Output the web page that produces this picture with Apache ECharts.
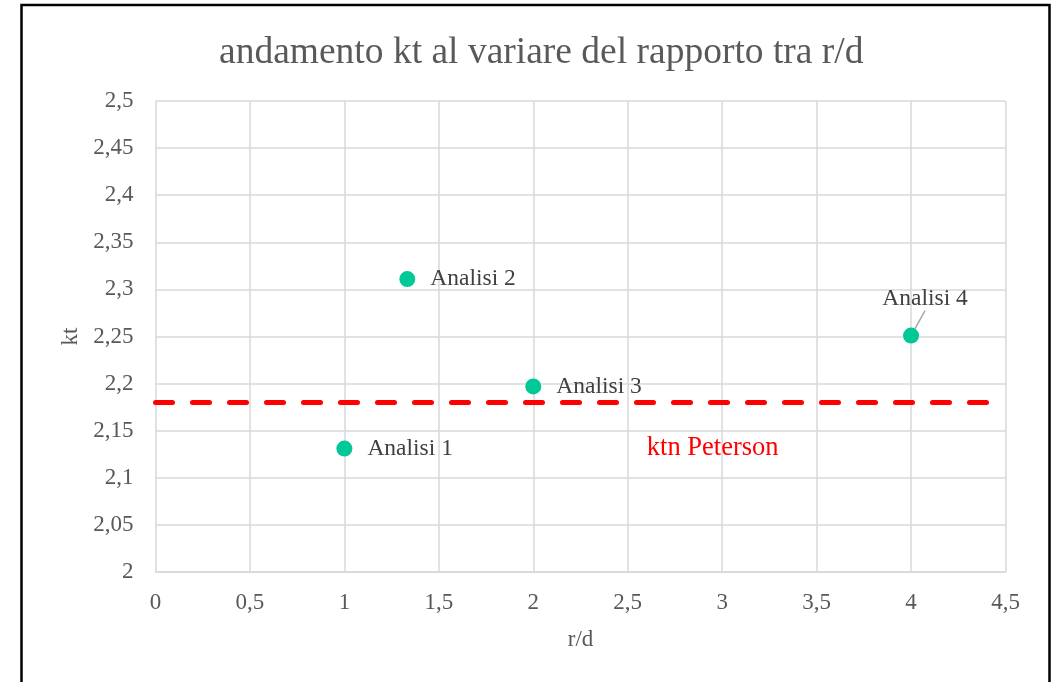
<!DOCTYPE html>
<html>
<head>
<meta charset="utf-8">
<script src="https://cdn.jsdelivr.net/npm/echarts@6/dist/echarts.min.js"></script>
<style>
  html, body { margin: 0; padding: 0; background: #ffffff; }
  #chart { width: 1056px; height: 682px; }
</style>
</head>
<body>
<div id="chart"></div>
<script>
// Analysis points: r/d ratio against measured kt
const analysisNames = ['Analisi 1', 'Analisi 2', 'Analisi 3', 'Analisi 4'];
const rdValues = [1, 1.333, 2, 4];
const ktValues = [2.131, 2.311, 2.197, 2.251];

// Peterson reference value (horizontal line) and where its caption sits
const petersonName = 'ktn Peterson';
const petersonKt = 2.18;
const petersonX = [0, 2.95, 4.5];
const petersonLabelIndex = 1;

const xTicks = { min: 0, max: 4.5, step: 0.5 };
const yTicks = { min: 2, max: 2.5, step: 0.05 };

const serif = '"Liberation Serif", "Times New Roman", serif';
const fmt = v => String(+v.toFixed(2)).replace('.', ',');

const scatterData = analysisNames.map((name, i) => {
  const item = { name: name, value: [rdValues[i], ktValues[i]] };
  if (i === 3) {
    item.label = { position: 'top', distance: 6 };
    item.labelLine = { show: true, lineStyle: { color: '#a6a6a6', width: 1.5 } };
  }
  return item;
});

const lineData = petersonX.map((x, i) => {
  const item = { value: [x, petersonKt] };
  if (i === petersonLabelIndex) {
    item.label = {
      show: true, position: 'bottom', distance: 32,
      formatter: petersonName, color: '#ff0000',
      fontFamily: serif, fontSize: 26.5
    };
  }
  return item;
});

const chart = echarts.init(document.getElementById('chart'), null, { renderer: 'canvas' });
chart.setOption({
  backgroundColor: '#ffffff',
  animation: false,
  graphic: [{
    type: 'rect',
    shape: { x: 21.5, y: 5, width: 1028, height: 700 },
    style: { fill: 'none', stroke: '#000000', lineWidth: 2.5 },
    silent: true
  }],
  title: {
    text: 'andamento kt al variare del rapporto tra r/d',
    left: 214,
    top: 29,
    textStyle: { fontFamily: serif, fontSize: 37.5, fontWeight: 'normal', color: '#595959' }
  },
  grid: { left: 155.5, top: 101, right: 50.5, bottom: 110, containLabel: false },
  xAxis: {
    type: 'value',
    min: xTicks.min, max: xTicks.max, interval: xTicks.step,
    name: 'r/d',
    nameLocation: 'middle',
    nameGap: 56,
    nameTextStyle: { fontFamily: serif, fontSize: 23, color: '#595959' },
    axisLine: { show: true, lineStyle: { color: '#d9d9d9', width: 1.5 } },
    axisTick: { show: false },
    axisLabel: { formatter: fmt, fontFamily: serif, fontSize: 23, color: '#595959', margin: 19 },
    splitLine: { show: true, lineStyle: { color: '#d9d9d9', width: 1.5 } }
  },
  yAxis: {
    type: 'value',
    min: yTicks.min, max: yTicks.max, interval: yTicks.step,
    name: 'kt',
    nameLocation: 'middle',
    nameGap: 73,
    nameRotate: 90,
    nameTextStyle: { fontFamily: serif, fontSize: 23, color: '#595959' },
    axisLine: { show: false },
    axisTick: { show: false },
    axisLabel: { formatter: fmt, fontFamily: serif, fontSize: 23, color: '#595959', margin: 22 },
    splitLine: { show: true, lineStyle: { color: '#d9d9d9', width: 1.5 } }
  },
  series: [
    {
      name: petersonName,
      type: 'line',
      data: lineData,
      symbol: 'circle',
      symbolSize: 0.1,
      showSymbol: true,
      itemStyle: { color: 'rgba(0,0,0,0)' },
      lineStyle: { color: '#ff0000', width: 5, type: [17, 20], cap: 'round' },
      z: 3
    },
    {
      name: 'Analisi',
      type: 'scatter',
      data: scatterData,
      symbol: 'circle',
      symbolSize: 16,
      itemStyle: { color: '#00c896', opacity: 1 },
      label: {
        show: true,
        position: 'right',
        distance: 15,
        formatter: '{b}',
        fontFamily: serif,
        fontSize: 23.5,
        color: '#404040'
      },
      labelLayout: function (p) {
        if (p.dataIndex === 3) return { dx: 14, dy: -11 };
        return {};
      },
      z: 4
    }
  ]
});
</script>
</body>
</html>
